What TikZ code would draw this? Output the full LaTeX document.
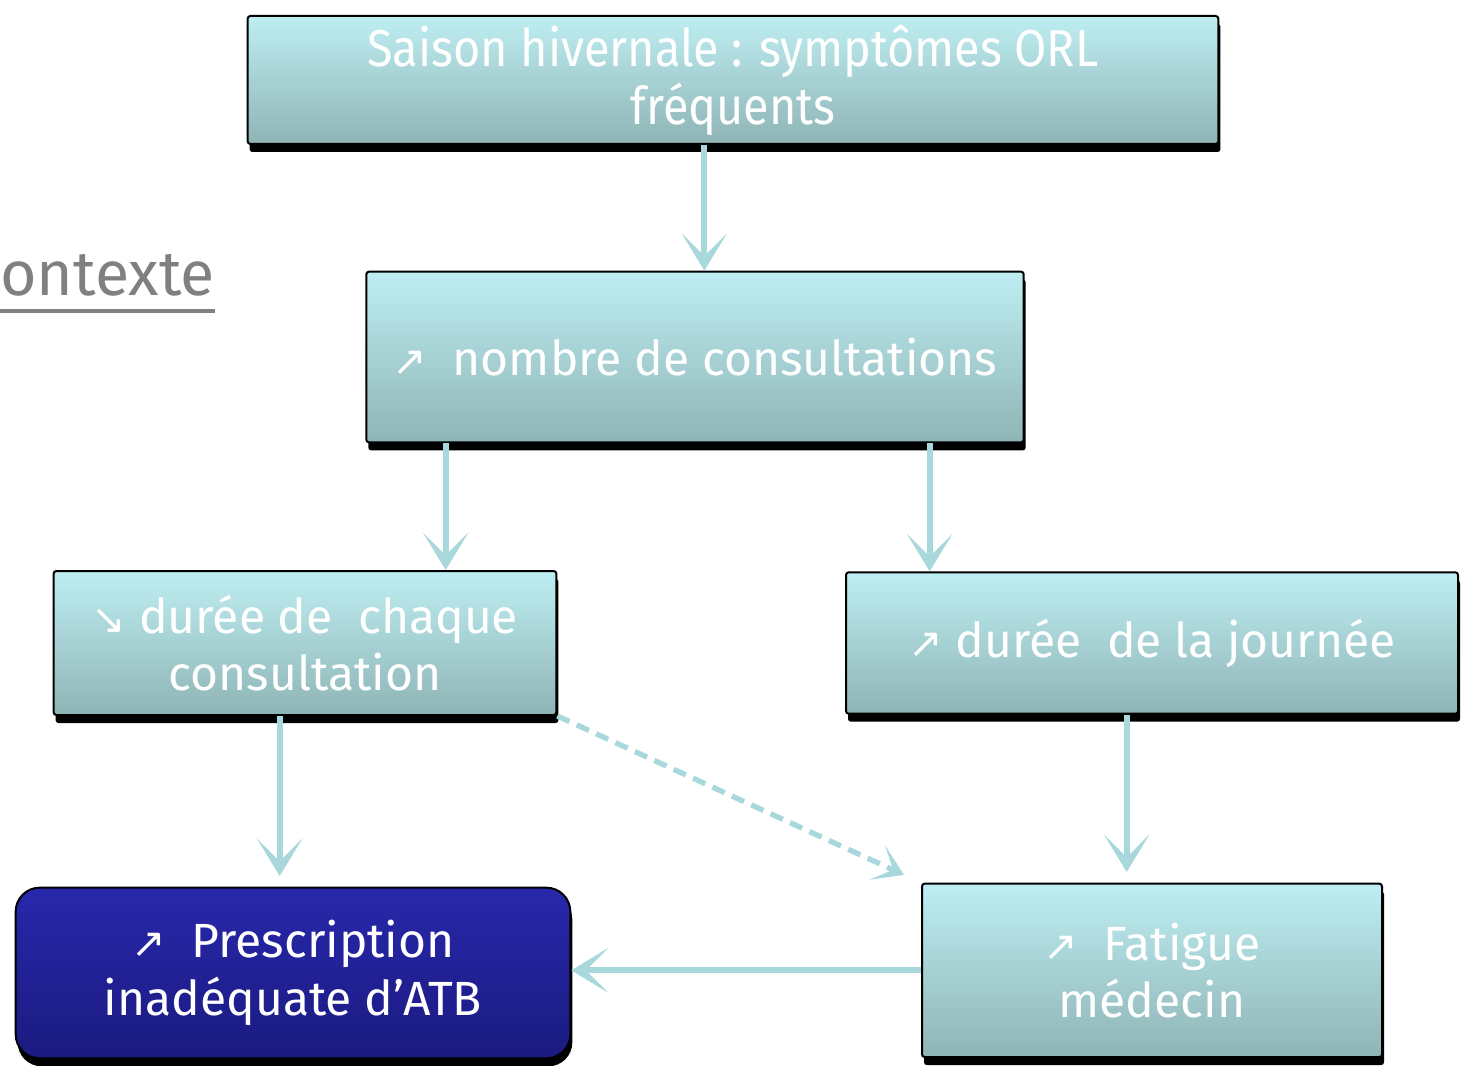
\documentclass[tikz,border=0pt]{standalone}
\usepackage{fontspec}
\setmainfont{Fira Sans}
\newfontfamily\narrowfont{Fira Sans}[FakeStretch=0.9]
\newfontfamily\arrowfont{DejaVu Sans}
\usetikzlibrary{arrows.meta, positioning, shadows}
\definecolor{cyantop}{RGB}{190, 238, 242}
\definecolor{cyanbottom}{RGB}{143, 180, 181}
\definecolor{bluetop}{RGB}{40, 40, 172}
\definecolor{bluebottom}{RGB}{26, 26, 128}
\definecolor{arrowcyan}{RGB}{168, 216, 220}
\definecolor{contextgray}{RGB}{128, 128, 128}
\newcommand{\hausse}{{\arrowfont\fontsize{31}{31}\selectfont ↗}}
\newcommand{\baisse}{{\arrowfont\fontsize{31}{31}\selectfont ↘}}
\begin{document}
\begin{tikzpicture}[
	x=0.75pt, y=-0.75pt,
	% cause boxes, light cyan gradient
	causebox/.style={
			rectangle,
			rounded corners=2pt,
			top color=cyantop,
			bottom color=cyanbottom,
			draw=black,
			line width=1.5pt,
			text=white,
			align=center,
			font=\fontsize{36}{43}\selectfont,
			drop shadow={shadow xshift=1.5pt, shadow yshift=-6pt, fill=black, opacity=1}
		},
	% final outcome box, dark blue
	outcomebox/.style={
			rectangle,
			rounded corners=18pt,
			top color=bluetop,
			bottom color=bluebottom,
			draw=black,
			line width=1.5pt,
			text=white,
			align=center,
			font=\fontsize{36}{43}\selectfont,
			drop shadow={shadow xshift=1.5pt, shadow yshift=-6pt, fill=black, opacity=1}
		},
	flow/.style={
	-{Stealth[length=28pt, width=34pt, inset=17pt]},
	line width=4.5pt,
	color=arrowcyan
	},
	dashedflow/.style={
	-{Stealth[length=22pt, width=28pt, inset=13pt]},
	line width=4pt,
	color=arrowcyan,
	dash pattern=on 10pt off 6pt
	}
	]
	\useasboundingbox (0,0) rectangle (1461,1066);

	% title on the left, cut by the page edge
	\node[anchor=base west, inner sep=0pt, text=contextgray, font=\fontsize{47}{47}\selectfont] (ctx) at (0,296) {ontexte};
	\draw[contextgray, line width=3pt] ([yshift=-11pt]ctx.base west) -- ([yshift=-11pt]ctx.base east);

	% boxes
	\node[causebox, minimum width=728pt, minimum height=96pt, font=\narrowfont\fontsize{39}{43.5}\selectfont] (saison) at (733, 80) {Saison hivernale : symptômes ORL\\fréquents};
	\node[causebox, minimum width=493pt, minimum height=128pt] (nombre) at (695, 357) {\hausse\ \ nombre de consultations};
	\node[causebox, minimum width=377pt, minimum height=108pt] (dureecons) at (305, 643) {\baisse\ durée de\ \ chaque\\consultation};
	\node[causebox, minimum width=459pt, minimum height=106pt] (dureejour) at (1152, 643) {\hausse\ durée\ \ de la journée};
	\node[outcomebox, minimum width=416pt, minimum height=128pt] (atb) at (293, 973) {\hausse\ \ Prescription\\inadéquate d’ATB};
	\node[causebox, minimum width=345pt, minimum height=130pt, below=126pt of dureejour] (fatigue) {\hausse\ \ Fatigue\\médecin};

	% arrows
	\draw[flow] ([xshift=7pt]nombre.north |- saison.south) -- ([xshift=7pt]nombre.north);
	\draw[flow] ([xshift=-187pt]nombre.south) -- ([xshift=-187pt]nombre.south |- dureecons.north);
	\draw[flow] ([xshift=176pt]nombre.south) -- ([xshift=176pt]nombre.south |- dureejour.north);
	\draw[flow, shorten >=8pt] ([xshift=-19pt]dureecons.south) -- ([xshift=-19pt]dureecons.south |- atb.north);
	\draw[flow, shorten >=8pt] ([xshift=-19pt]dureejour.south) -- ([xshift=-19pt]dureejour.south |- fatigue.north);
	\draw[flow] (fatigue.west) -- (fatigue.west -| atb.east);
	\draw[dashedflow, shorten >=14pt] (dureecons.south east) -- (fatigue.north west);

\end{tikzpicture}
\end{document}
